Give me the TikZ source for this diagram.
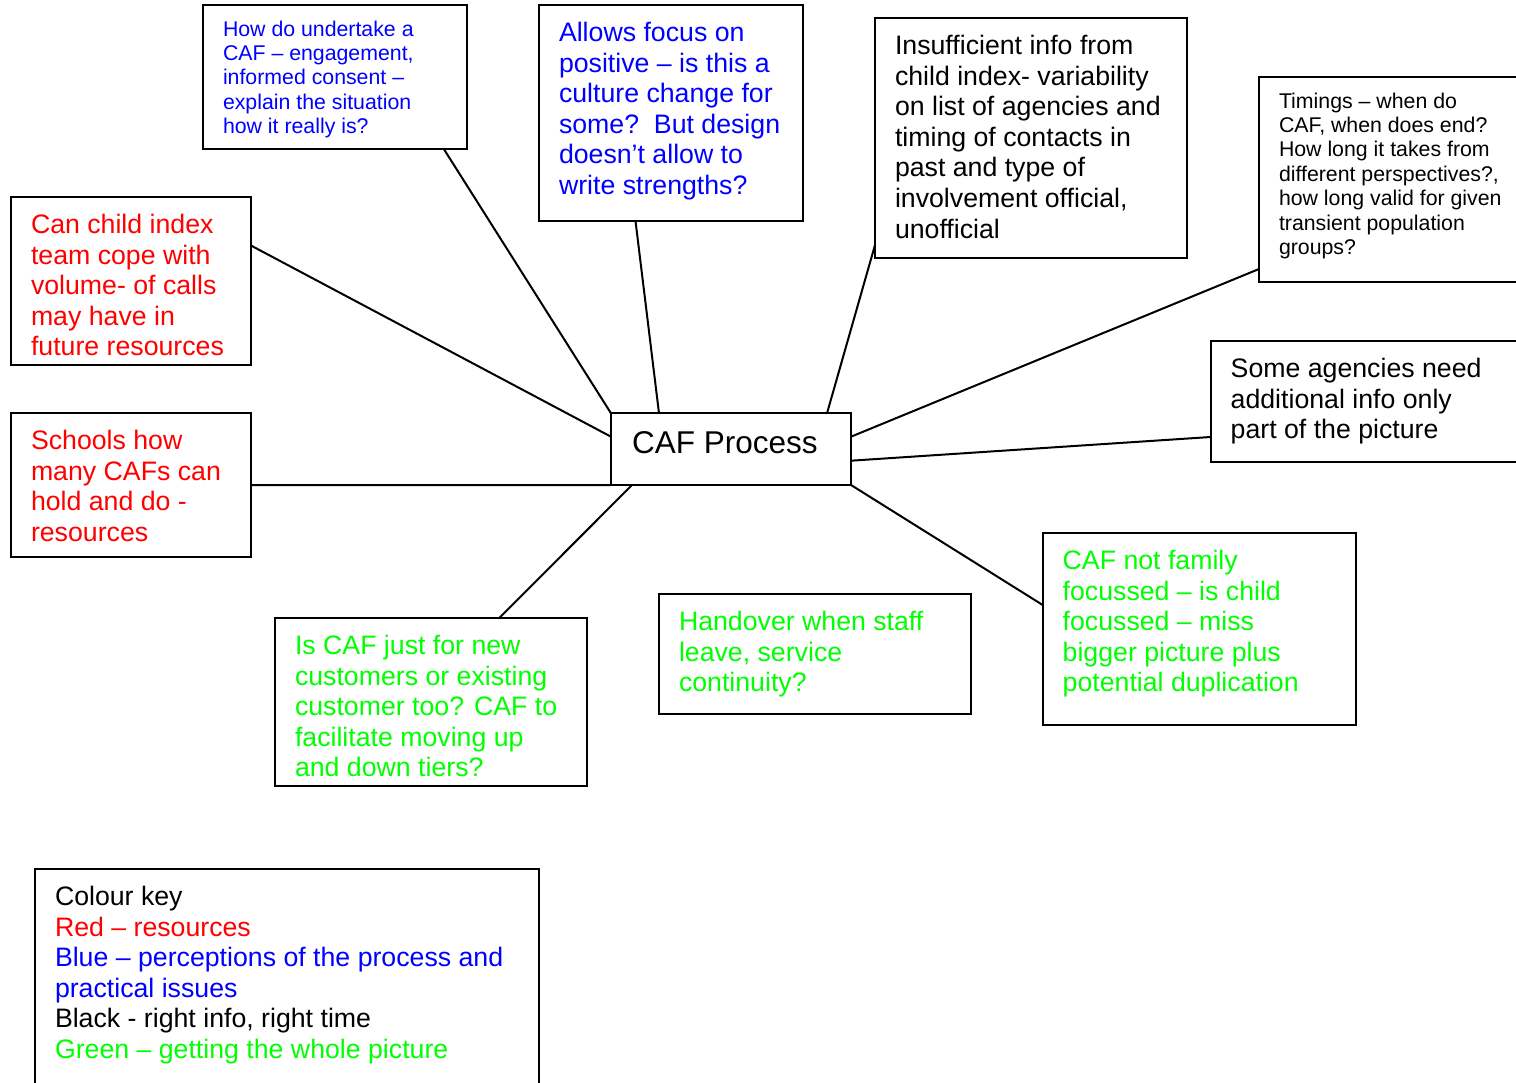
\documentclass[tikz,border=0pt]{standalone}
\usepackage{fontspec}
\setmainfont{Liberation Sans}
\usetikzlibrary{calc}

% text sizes used in the boxes
\newcommand{\cardfont}{\fontsize{26.7}{30.55}\selectfont}
\newcommand{\smallcardfont}{\fontsize{21.3}{24.4}\selectfont}
\newcommand{\hubfont}{\fontsize{31.5}{36}\selectfont}

\definecolor{keyred}{RGB}{255,0,0}
\definecolor{keyblue}{RGB}{0,0,255}
\definecolor{keygreen}{RGB}{0,255,0}

\begin{document}
\begin{tikzpicture}[x=1pt,y=1pt,
  box/.style={draw=black, line width=2pt, inner sep=0pt, outer sep=0pt,
              anchor=north west, fill=white},
  txt/.style={inner sep=0pt, outer sep=0pt, anchor=north west, align=left,
              font=\cardfont},
  smalltxt/.style={txt, font=\smallcardfont},
  wire/.style={draw=black, line width=2pt, line cap=round}]

\clip (0,0) rectangle (1516,-1083);
\fill[white] (0,0) rectangle (1516,-1083);

% ---- frames ----
\node[box, minimum width=240, minimum height=71.7]   (caf)      at (611,-413.3) {};
\node[box, minimum width=264, minimum height=144]    (how)      at (203,-5.3) {};
\node[box, minimum width=264.3, minimum height=215.7] (allows)  at (539,-5.3) {};
\node[box, minimum width=311.7, minimum height=240]  (insuff)   at (875,-18.3) {};
\node[box, minimum width=290, minimum height=204.4]  (timings)  at (1259,-77.3) {};
\node[box, minimum width=240.3, minimum height=167.7] (can)     at (11,-197.3) {};
\node[box, minimum width=240.3, minimum height=144]  (schools)  at (11,-413.3) {};
\node[box, minimum width=330, minimum height=120.7]  (some)     at (1210.7,-341) {};
\node[box, minimum width=313, minimum height=191.7]  (cafnot)   at (1042.7,-533.3) {};
\node[box, minimum width=312, minimum height=120]    (handover) at (659,-594) {};
\node[box, minimum width=311.7, minimum height=167.4] (iscaf)   at (275,-618.3) {};
\node[box, minimum width=504, minimum height=240]    (key)      at (35,-869) {};

% ---- connectors to the hub ----
\draw[wire] ([xshift=241]how.south west) -- (caf.north west);
\draw[wire] ([xshift=96.5]allows.south west) -- ([xshift=48]caf.north west);
\draw[wire] ([yshift=13.3]insuff.south west) -- ([xshift=216]caf.north west);
\draw[wire] ([yshift=12.7]timings.south west) -- ([yshift=-23.4]caf.north east);
\draw[wire] ([yshift=24.7]some.south west) -- ([yshift=24.3]caf.south east);
\draw[wire] (caf.south east) -- ([yshift=-71.7]cafnot.north west);
\draw[wire] ([yshift=-48.4]can.north east) -- ([yshift=-23.4]caf.north west);
\draw[wire] ([yshift=-71.7]schools.north east) -- (caf.south west);
\draw[wire] ([xshift=21]caf.south west) -- ([xshift=224]iscaf.north west);

% ---- texts ----
\node[anchor=base west, inner sep=0pt, font=\hubfont] (cafT)
  at ([shift={(21,-40.5)}]caf.north west) {CAF Process};

\node[smalltxt, text=keyblue] (howT) at ([shift={(20,-13.7)}]how.north west)
  {\strut How do undertake a\\CAF – engagement,\\informed consent –\\explain the situation\\how it really is?};

\node[txt, text=keyblue] (allowsT) at ([shift={(20,-15.1)}]allows.north west)
  {\strut Allows focus on\\positive – is this a\\culture change for\\some?\ \ But design\\doesn’t allow to\\write strengths?};

\node[txt, text=black] (insuffT) at ([shift={(20,-15.1)}]insuff.north west)
  {\strut Insufficient info from\\child index- variability\\on list of agencies and\\timing of contacts in\\past and type of\\involvement official,\\unofficial};

\node[smalltxt, text=black] (timingsT) at ([shift={(20,-13.7)}]timings.north west)
  {\strut Timings – when do\\CAF, when does end?\\How long it takes from\\different perspectives?,\\how long valid for given\\transient population\\groups?};

\node[txt, text=keyred] (canT) at ([shift={(20,-15.1)}]can.north west)
  {\strut Can child index\\team cope with\\volume- of calls\\may have in\\future resources};

\node[txt, text=keyred] (schoolsT) at ([shift={(20,-15.1)}]schools.north west)
  {\strut Schools how\\many CAFs can\\hold and do -\\resources};

\node[txt, text=black] (someT) at ([shift={(20,-15.1)}]some.north west)
  {\strut Some agencies need\\additional info only\\part of the picture};

\node[txt, text=keygreen] (cafnotT) at ([shift={(20,-15.1)}]cafnot.north west)
  {\strut CAF not family\\focussed – is child\\focussed – miss\\bigger picture plus\\potential duplication};

\node[txt, text=keygreen] (handoverT) at ([shift={(20,-15.1)}]handover.north west)
  {\strut Handover when staff\\leave, service\\continuity?};

\node[txt, text=keygreen] (iscafT) at ([shift={(20,-15.1)}]iscaf.north west)
  {\strut Is CAF just for new\\customers or existing\\customer too? CAF to\\facilitate moving up\\and down tiers?};

\node[txt] (keyT) at ([shift={(20,-15.1)}]key.north west)
  {\strut Colour key\\
   \textcolor{keyred}{Red – resources}\\
   \textcolor{keyblue}{Blue – perceptions of the process and}\\
   \textcolor{keyblue}{practical issues}\\
   Black - right info, right time\\
   \textcolor{keygreen}{Green – getting the whole picture}};

\end{tikzpicture}
\end{document}
